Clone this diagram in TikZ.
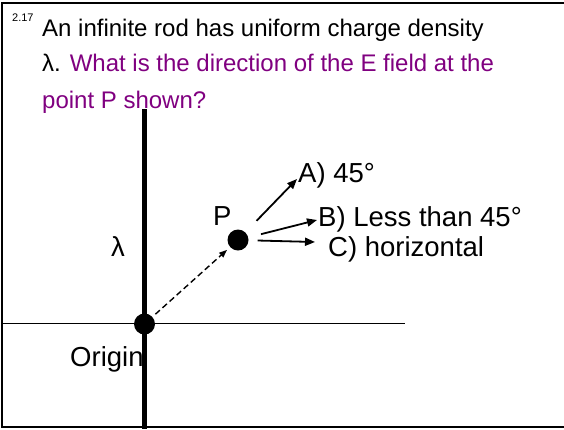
\documentclass[tikz,border=0pt]{standalone}
\usepackage{fontspec}
\setmainfont{Liberation Sans}
\usepackage{tikz}
\usetikzlibrary{arrows.meta}
\definecolor{qpurple}{RGB}{128,0,128}

\begin{document}
\begin{tikzpicture}[x=1pt, y=-1pt, >=Triangle,
  title/.style={anchor=base west, inner sep=0pt, font=\fontsize{24}{28}\selectfont},
  label/.style={anchor=base west, inner sep=0pt, font=\fontsize{27.5}{32}\selectfont},
  dot/.style={circle, fill=black, inner sep=0pt, minimum size=21pt},
  ansarrow/.style={line width=1.8pt, -{Triangle[length=10pt,width=8pt]}}]
  \useasboundingbox (0,0) rectangle (564,429);
  % frame, open on the right
  \draw[line width=2pt] (564,3) -- (2,3) -- (2,427) -- (564,427);
  % question
  \node[anchor=base west, inner sep=0pt, font=\fontsize{11}{13}\selectfont] (num) at (12,21) {2.17};
  \node[title] (line1) at (42,36) {An infinite rod has uniform charge density};
  \node[title] (line2) at (42,71) {λ. \textcolor{qpurple}{What is the direction of the E field at the}};
  \node[title, text=qpurple] (line3) at (42,108) {point P shown?};
  % rod and axis
  \coordinate (rodtop) at (144.5,109); \coordinate (rodbot) at (144.5,429);
  \coordinate (axl) at (2,323); \coordinate (axr) at (405,323);
  \draw[line width=1pt] (axl) -- (axr);
  \draw[line width=4.5pt] (rodtop) -- (rodbot);
  \node[dot] (origin) at (144.5,324) {};
  \node[dot] (p) at (238,240) {};
  \node[label] (lam) at (111,256) {λ};
  \node[label] (orig) at (70,366) {Origin};
  \node[label] (plab) at (213,225) {P};
  \draw[line width=1.4pt, dash pattern=on 6pt off 3.5pt, -{Triangle[length=8pt,width=6pt]},
    shorten <=4pt, shorten >=4pt] (origin) -- (p);
  % answers
  \foreach \n/\x/\y/\t in {A/298/182/{A) 45°}, B/318/226/{B) Less than 45°}, C/328/256/{C) horizontal}} {
    \node[label] (ans\n) at (\x,\y) {\t};
  }
  \coordinate (tipA) at (297,179); \coordinate (tipB) at (317,220); \coordinate (tipC) at (315,242);
  \foreach \n/\s in {A/16, B/13, C/9} {
    \draw[ansarrow, shorten <=\s pt] (p) -- (tip\n);
  }
\end{tikzpicture}
\end{document}
